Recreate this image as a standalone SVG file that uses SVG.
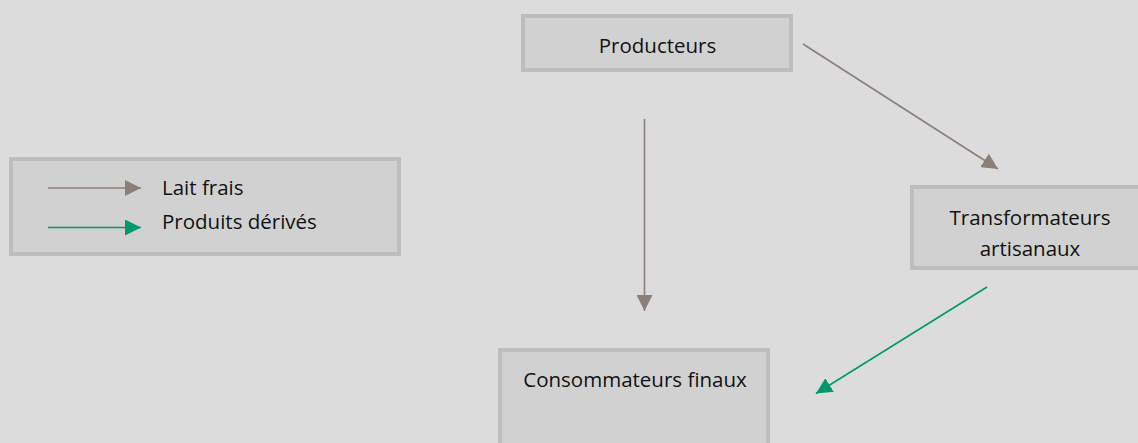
<svg xmlns="http://www.w3.org/2000/svg" width="1138" height="443" viewBox="0 0 1138 443">
<style>
.box{fill:#d1d1d1;stroke:#bdbdbd;stroke-width:4}
.t{font-family:"Open Sans","Noto Sans",sans-serif;font-size:20.5px;fill:#111}
.c{text-anchor:middle}
.brown{stroke:#8c7e78;stroke-width:1.6;fill:none}
.green{stroke:#00996b;stroke-width:1.6;fill:none}
</style>
<defs>
<marker id="ab" viewBox="0 0 16 16" refX="16" refY="8" markerWidth="16" markerHeight="16" markerUnits="userSpaceOnUse" orient="auto"><path d="M0,0 L16,8 L0,16 Z" fill="#8c7e78"/></marker>
<marker id="ag" viewBox="0 0 16 16" refX="16" refY="8" markerWidth="16" markerHeight="16" markerUnits="userSpaceOnUse" orient="auto"><path d="M0,0 L16,8 L0,16 Z" fill="#00996b"/></marker>
</defs>
<rect width="1138" height="443" fill="#dcdcdc"/>
<g id="legend">
<rect class="box" x="11" y="159" width="388" height="95"/>
<line class="brown" x1="48" y1="188" x2="141" y2="188" marker-end="url(#ab)"/>
<line class="green" x1="48" y1="227.5" x2="141" y2="227.5" marker-end="url(#ag)"/>
<text class="t" x="162" y="195">Lait frais</text>
<text class="t" x="162" y="229">Produits dérivés</text>
</g>
<g id="producteurs">
<rect class="box" x="523" y="16" width="268" height="54"/>
<text class="t c" x="657.5" y="53">Producteurs</text>
</g>
<g id="transformateurs">
<rect class="box" x="912" y="187" width="240" height="81"/>
<text class="t c" x="1030" y="225">Transformateurs</text>
<text class="t c" x="1030" y="256">artisanaux</text>
</g>
<g id="consommateurs">
<rect class="box" x="500" y="350" width="268" height="110"/>
<text class="t c" x="635" y="387">Consommateurs finaux</text>
</g>
<g id="connectors">
<line class="brown" x1="644.5" y1="119" x2="644.5" y2="311" marker-end="url(#ab)"/>
<line class="brown" x1="803" y1="44" x2="998" y2="169" marker-end="url(#ab)"/>
<line class="green" x1="987" y1="287" x2="816" y2="393.5" marker-end="url(#ag)"/>
</g>
</svg>
